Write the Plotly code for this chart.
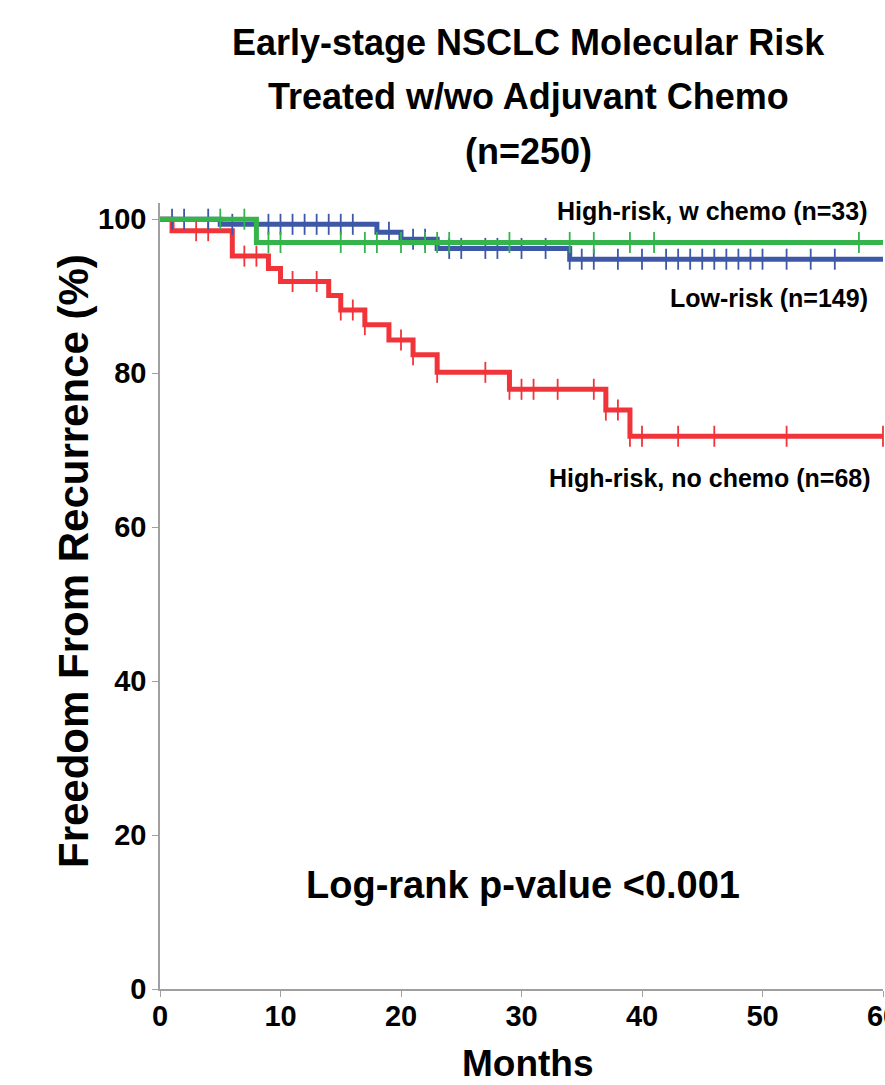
import numpy as np
import plotly.graph_objects as go

# ---- data ----
months_ticks = [0, 10, 20, 30, 40, 50, 60]
y_ticks = [0, 20, 40, 60, 80, 100]

# High-risk, no chemo (n=68)
red_times = [0, 1, 6, 9, 10, 14, 15, 17, 19, 21, 23, 29, 37, 39]
red_surv = [100, 98.5, 95.2, 93.6, 91.9, 90.1, 88.2, 86.3, 84.3, 82.4, 80.1, 77.9, 75.2, 71.8]
red_cens = [3, 4, 7, 8, 11, 13, 15, 16, 17, 20, 21, 23, 27, 29, 30, 31, 33, 36, 37, 38, 39, 40, 43, 46, 52, 60]

# Low-risk (n=149)
blue_times = [0, 5, 18, 20, 23, 34]
blue_surv = [100, 99.33, 98.3, 97.4, 96.2, 94.8]
blue_cens = [1, 2, 4, 6, 9, 10, 11, 12, 13, 14, 15, 16, 19, 21, 22, 24, 25, 27, 28, 30, 32,
             34, 35, 36, 38, 40, 42, 43, 44, 45, 46, 47, 48, 49, 50, 52, 54, 56]

# High-risk, w chemo (n=33)
green_times = [0, 8]
green_surv = [100, 96.97]
green_cens = [5, 7, 9, 10, 15, 17, 18, 20, 22, 23, 24, 29, 34, 36, 39, 41, 58]

end_month = 60

RED = "rgb(240,52,58)"
BLUE = "rgb(62,88,168)"
GREEN = "rgb(52,180,74)"

FONT = "Liberation Sans, Arial, sans-serif"

fig = go.Figure()


def add_km(times, surv, cens, color, name):
    xs = list(times) + [end_month]
    ys = list(surv) + [surv[-1]]
    fig.add_trace(go.Scatter(x=xs, y=ys, mode="lines", line=dict(color=color, width=5, shape="hv"),
                             name=name, showlegend=False, hoverinfo="skip", cliponaxis=False))
    t = np.array(times)
    s = np.array(surv)
    cy = [s[np.searchsorted(t, c, side="right") - 1] for c in cens]
    fig.add_trace(go.Scatter(x=cens, y=cy, mode="markers",
                             marker=dict(symbol="line-ns", size=15, color=color,
                                         line=dict(color=color, width=1.8)),
                             showlegend=False, hoverinfo="skip", cliponaxis=False))


add_km(red_times, red_surv, red_cens, RED, "High-risk, no chemo (n=68)")
add_km(blue_times, blue_surv, blue_cens, BLUE, "Low-risk (n=149)")
add_km(green_times, green_surv, green_cens, GREEN, "High-risk, w chemo (n=33)")

# plot-area geometry in pixels
L, R, T, B = 160, 883, 203, 989
W, H = 885, 1085


def px(x):
    return (x - L) / (R - L)


def py(y):
    return (B - y) / (B - T)


def bold(size):
    return dict(family=FONT, size=size, color="black", weight="bold")


annotations = []
for txt, yy in [("Early-stage NSCLC Molecular Risk", 43), ("Treated w/wo Adjuvant Chemo", 97), ("(n=250)", 152)]:
    annotations.append(dict(text=txt, x=px(528), y=py(yy), xref="paper", yref="paper",
                            xanchor="center", yanchor="middle", showarrow=False, font=bold(36)))

for txt, xx, yy in [("High-risk, w chemo (n=33)", 870, 211), ("Low-risk (n=149)", 870, 298),
                    ("High-risk, no chemo (n=68)", 873, 478)]:
    annotations.append(dict(text=txt, x=px(xx), y=py(yy), xref="paper", yref="paper",
                            xanchor="right", yanchor="middle", showarrow=False, font=bold(25)))

annotations.append(dict(text="Log-rank p-value <0.001", x=px(523), y=py(885), xref="paper", yref="paper",
                        xanchor="center", yanchor="middle", showarrow=False, font=bold(38)))

annotations.append(dict(text="Months", x=px(528), y=py(1063), xref="paper", yref="paper",
                        xanchor="center", yanchor="middle", showarrow=False, font=bold(37)))
annotations.append(dict(text="Freedom From Recurrence (%)", x=px(73), y=py(561), xref="paper", yref="paper",
                        xanchor="center", yanchor="middle", showarrow=False, textangle=-90, font=bold(42)))

fig.update_layout(
    width=W, height=H,
    margin=dict(l=L, r=W - R, t=T, b=H - B, pad=0, autoexpand=False),
    paper_bgcolor="white", plot_bgcolor="white",
    annotations=annotations,
    showlegend=False,
)
fig.update_xaxes(range=[0, 60], tickvals=months_ticks, ticktext=[str(v) for v in months_ticks],
                 showgrid=False, zeroline=False, showline=True, linecolor="#a0a0a0", linewidth=1.5,
                 ticks="outside", ticklen=6, tickcolor="#a0a0a0", tickwidth=1.2,
                 tickfont=bold(29), automargin=False, ticklabeloverflow="allow",
                 ticklabelstandoff=-6)
fig.update_yaxes(range=[0, 102.1], tickvals=y_ticks, ticktext=[str(v) for v in y_ticks],
                 showgrid=False, zeroline=False, showline=True, linecolor="#a0a0a0", linewidth=1.5,
                 ticks="outside", ticklen=6, tickcolor="#a0a0a0", tickwidth=1.2,
                 tickfont=bold(29), automargin=False, ticklabeloverflow="allow")

fig.write_html("out.html", config={"displayModeBar": False},
               post_script="document.body.style.margin='0';document.body.style.overflow='hidden';"
                           "document.documentElement.style.overflow='hidden';window.dispatchEvent(new Event('resize'));")
